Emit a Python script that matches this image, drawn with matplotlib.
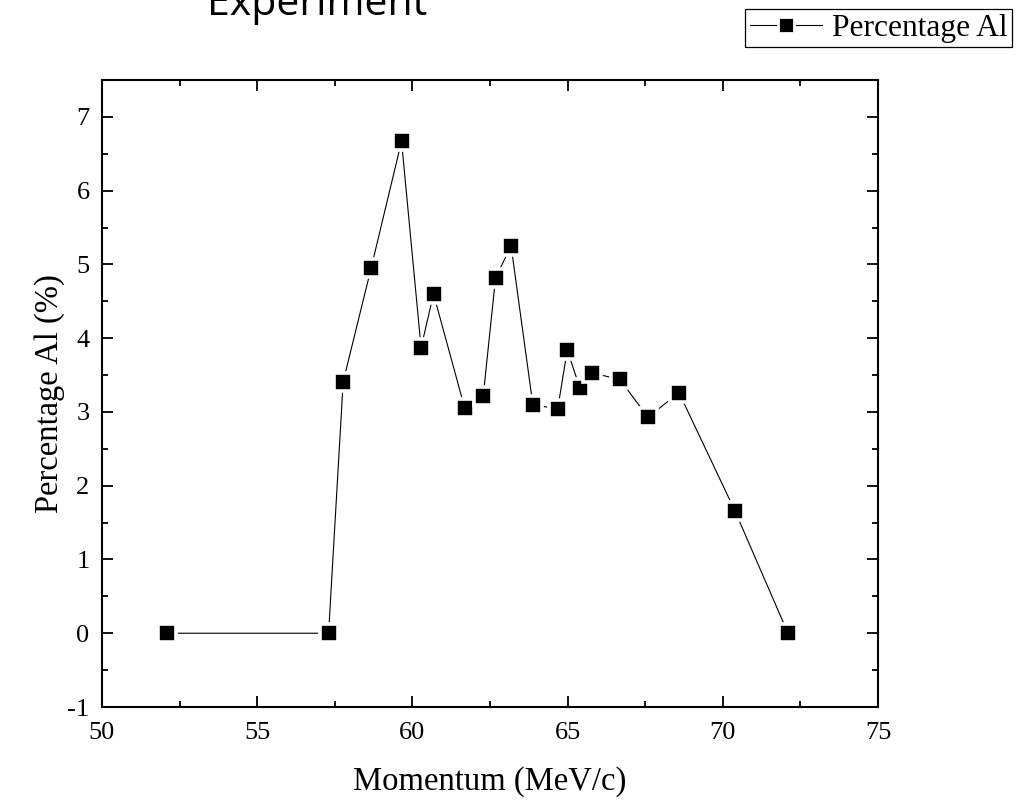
import matplotlib
matplotlib.use("Agg")
import matplotlib.pyplot as plt
from matplotlib.ticker import MultipleLocator

plt.rcParams["axes.unicode_minus"] = False

# Data
momentum = [52.1, 57.3, 57.77, 58.67, 59.65, 60.28, 60.68, 61.68, 62.28, 62.68,
            63.18, 63.88, 64.68, 64.99, 65.39, 65.78, 66.68, 67.59, 68.59, 70.39, 72.1]
percentage_al = [0.0, 0.0, 3.41, 4.95, 6.67, 3.87, 4.60, 3.06, 3.21, 4.82,
                 5.25, 3.10, 3.04, 3.84, 3.33, 3.53, 3.44, 2.93, 3.26, 1.66, 0.0]
series_label = "Percentage Al"
x_label = "Momentum (MeV/c)"
y_label = "Percentage Al (%)"
title_text = "Experiment"

W, H = 1026, 808
fig = plt.figure(figsize=(W / 100, H / 100), dpi=100)
ax = fig.add_axes([102 / W, 1 - 707 / H, (878 - 102) / W, (707 - 80) / H])

serif = ["Liberation Serif", "DejaVu Serif"]

line, = ax.plot(momentum, percentage_al, "-s", color="black", lw=0.8,
                ms=13.5, mfc="black", mec="white", mew=2.6, label=series_label)

ax.set_xlim(50, 75)
ax.set_ylim(-1, 7.5)
ax.xaxis.set_major_locator(MultipleLocator(5))
ax.xaxis.set_minor_locator(MultipleLocator(2.5))
ax.yaxis.set_major_locator(MultipleLocator(1))
ax.yaxis.set_minor_locator(MultipleLocator(0.5))

for s in ax.spines.values():
    s.set_linewidth(1.5)

ax.tick_params(which="both", direction="in", top=True, right=True, width=1.3)
ax.tick_params(which="major", length=8, pad=9, labelsize=19)
ax.tick_params(axis="x", which="major", pad=11)
ax.tick_params(which="minor", length=4.5)
for lab in ax.get_xticklabels() + ax.get_yticklabels():
    lab.set_family(serif)

ax.set_xlabel(x_label, fontsize=23.5, family=serif, labelpad=16)
ax.set_ylabel(y_label, fontsize=23.5, family=serif, labelpad=2)

leg = fig.legend(handles=[line], loc="upper right",
                 bbox_to_anchor=(1012 / W, 1 - 9 / H), bbox_transform=fig.transFigure,
                 borderaxespad=0, numpoints=1, handlelength=2.3, handletextpad=0.3,
                 borderpad=0.15, fancybox=False, framealpha=1,
                 prop={"family": serif, "size": 22.6})
leg.get_frame().set_edgecolor("black")
leg.get_frame().set_linewidth(0.9)
for h in leg.legend_handles:
    h.set_markersize(11)
    h.set_markeredgewidth(2.0)

fig.text(317 / W, 1 - 15 / H, title_text, ha="center", va="baseline",
         fontsize=29.5, family=["Open Sans", "DejaVu Sans"])

fig.savefig("out.png", dpi=100)
